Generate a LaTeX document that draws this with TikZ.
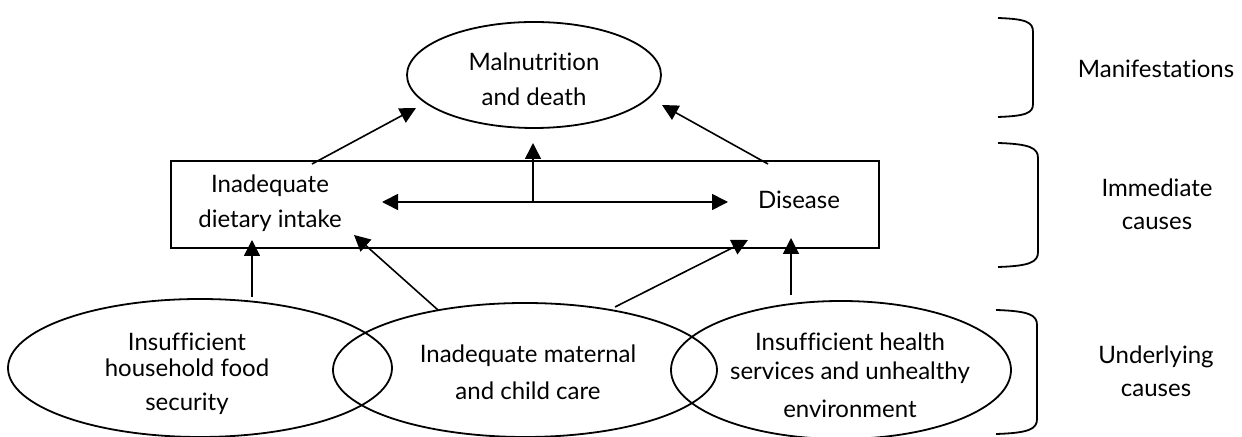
\documentclass[tikz,border=0pt]{standalone}
\usepackage{fontspec}
\setmainfont{Lato}[Ligatures={NoCommon,NoRare,NoContextual}]
\usetikzlibrary{arrows.meta,shapes.geometric}
\tikzset{
  ell/.style={ellipse, draw, line width=0.9pt, inner sep=0pt},
  boxed/.style={draw, line width=0.9pt, inner sep=0pt},
  txt/.style={align=center, font=\fontsize{12}{17.5}\selectfont, inner sep=0pt},
  arr/.style={line width=0.8pt, -{Triangle[length=8pt,width=8pt]}},
  darr/.style={line width=0.8pt, {Triangle[length=8pt,width=8pt]}-{Triangle[length=8pt,width=8pt]}},
  brace/.style={line width=0.9pt}
}
\begin{document}
\begin{tikzpicture}[x=0.5pt,y=-0.5pt]
\useasboundingbox (0,0) rectangle (1242,437);
% manifestations
\node[ell, minimum width=127pt, minimum height=53pt] (top) at (534,75) {};
\node[txt] (toptxt) at (534,79) {Malnutrition\\and death};
% immediate causes
\node[boxed, minimum width=354pt, minimum height=43.5pt] (box) at (525,204.5) {};
\node[txt] (diet) at (270,203) {Inadequate\\dietary intake};
\node[txt] (dis) at (799,200) {Disease};
% underlying causes
\node[ell, minimum width=192pt, minimum height=69pt] (food) at (200,368) {};
\node[txt] (foodtxt) at (187,374) {Insufficient\\[-4.5pt]household food\\[-0.5pt]security};
\node[ell, minimum width=192pt, minimum height=67pt] (care) at (525,370) {};
\node[txt] (caretxt) at (528,372.5) {Inadequate maternal\\[1pt]and child care};
\node[ell, minimum width=170pt, minimum height=69pt] (health) at (841,370) {};
\node[txt] (healthtxt) at (850,375.5) {Insufficient health\\[-3pt]services and unhealthy\\[1.5pt]environment};
% side labels
\node[txt] (man) at (1156,69) {Manifestations};
\node[txt] (imm) at (1157,204.5) {Immediate\\[-1pt]causes};
\node[txt] (und) at (1156,371.5) {Underlying\\[-1pt]causes};
% connector end points
\coordinate (a1s) at (312,164); \coordinate (a1e) at (416,108);
\coordinate (a2s) at (768,164); \coordinate (a2e) at (662,105);
\coordinate (dl) at (382,202);  \coordinate (dr) at (728,202);
\coordinate (vm) at (533,202);  \coordinate (vt) at (533,143);
\coordinate (b1s) at (252,297); \coordinate (b1e) at (252,240);
\coordinate (b2s) at (438,310); \coordinate (b2e) at (354,235);
\coordinate (b3s) at (615,307); \coordinate (b3e) at (748,240);
\coordinate (b4s) at (791,295); \coordinate (b4e) at (791,238);
\draw[arr] (a1s) -- (a1e);
\draw[arr] (a2s) -- (a2e);
\draw[darr] (dl) -- (dr);
\draw[arr] (vm) -- (vt);
\draw[arr] (b1s) -- (b1e);
\draw[arr] (b2s) -- (b2e);
\draw[arr] (b3s) -- (b3e);
\draw[arr] (b4s) -- (b4e);
% braces
\draw[brace] (998,18) .. controls (1026,19) and (1033,22) .. (1033,32) -- (1033,104) .. controls (1033,113) and (1026,116) .. (998,117);
\draw[brace] (998,143) .. controls (1030,144) and (1038,148) .. (1038,158) -- (1038,252) .. controls (1038,262) and (1030,266) .. (998,267);
\draw[brace] (996,310) .. controls (1029,311) and (1037,315) .. (1037,325) -- (1037,419) .. controls (1037,429) and (1029,433) .. (996,434);
\end{tikzpicture}
\end{document}
